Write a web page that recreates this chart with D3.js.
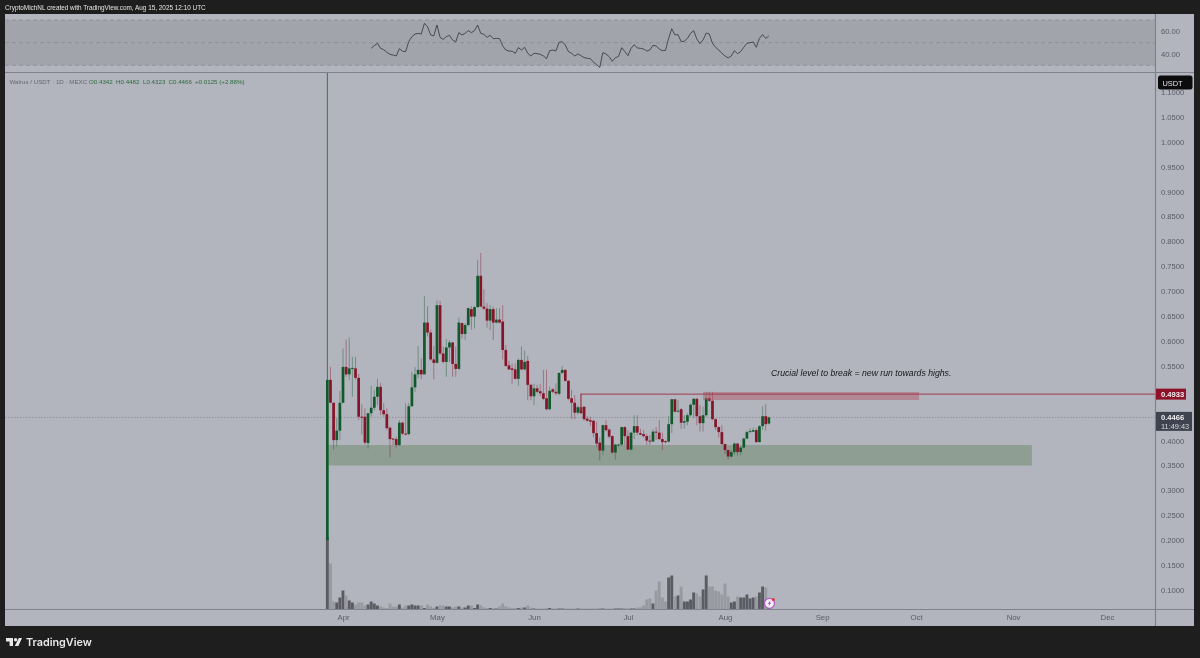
<!DOCTYPE html>
<html><head><meta charset="utf-8">
<script src="https://cdn.jsdelivr.net/npm/d3@7"></script>
<style>html,body{margin:0;padding:0;background:#1e1e1e;overflow:hidden}svg{display:block;font-family:"Liberation Sans",sans-serif;filter:blur(0.3px)}</style>
</head><body><svg id="c" width="1200" height="658"></svg>
<script>
const opens=[.2,.522,.476,.401,.420,.476,.548,.533,.545,.545,.526,.448,.448,.395,.455,.466,.488,.508,.461,.453,
.426,.404,.403,.391,.436,.414,.413,.469,.507,.533,.542,.533,.637,.617,.563,.556,.672,.575,.558,.587,
.597,.554,.544,.636,.614,.632,.664,.649,.668,.731,.669,.665,.641,.664,.637,.643,.639,.582,.551,.545,
.543,.524,.562,.543,.560,.512,.489,.505,.499,.495,.485,.463,.503,.498,.494,.536,.542,.520,.485,.476,
.456,.467,.468,.444,.441,.440,.415,.396,.380,.431,.422,.409,.376,.392,.392,.427,.409,.382,.416,.429,
.415,.413,.409,.400,.398,.418,.416,.403,.399,.398,.433,.483,.458,.463,.436,.438,.451,.472,.484,.449,
.435,.451,.485,.480,.443,.427,.417,.393,.381,.368,.377,.394,.377,.386,.404,.417,.418,.421,.397,.429,
.449,.4342];
const closes=[.522,.476,.401,.420,.476,.548,.533,.545,.546,.526,.448,.447,.396,.455,.466,.488,.508,.461,.453,.425,
.403,.402,.391,.436,.414,.413,.469,.507,.533,.542,.533,.637,.617,.563,.556,.672,.575,.558,.587,.597,
.554,.544,.637,.614,.632,.666,.649,.668,.731,.669,.665,.641,.664,.637,.643,.637,.582,.550,.543,.542,
.524,.562,.543,.558,.512,.489,.505,.498,.495,.484,.463,.500,.498,.495,.536,.542,.520,.484,.476,.456,
.467,.455,.443,.440,.438,.415,.394,.380,.431,.421,.408,.376,.392,.392,.427,.409,.382,.416,.429,.416,
.412,.409,.400,.398,.418,.416,.403,.397,.398,.433,.483,.458,.460,.436,.439,.451,.472,.484,.449,.435,
.451,.485,.480,.443,.427,.417,.393,.381,.368,.377,.394,.377,.386,.404,.417,.419,.421,.397,.429,.449,
.433,.4466];
const highs=[1.2,.548,.477,.445,.500,.585,.603,.607,.568,.568,.534,.473,.465,.455,.510,.502,.524,.516,.475,.465,
.428,.405,.408,.441,.438,.475,.475,.538,.548,.590,.565,.690,.670,.623,.590,.681,.681,.589,.604,.602,
.598,.589,.647,.637,.636,.667,.670,.670,.763,.777,.704,.676,.672,.669,.666,.666,.672,.592,.560,.555,
.555,.565,.589,.581,.570,.514,.514,.512,.514,.542,.542,.508,.505,.515,.536,.550,.543,.522,.502,.491,
.470,.495,.469,.449,.448,.440,.438,.406,.432,.441,.425,.411,.393,.394,.428,.429,.421,.418,.451,.451,
.424,.421,.414,.411,.423,.427,.441,.416,.400,.449,.483,.483,.481,.465,.451,.455,.475,.485,.485,.471,
.468,.498,.498,.498,.445,.429,.431,.394,.382,.381,.396,.396,.388,.406,.420,.425,.426,.425,.431,.469,
.473,.4482];
const lows=[.2,.475,.382,.388,.401,.475,.528,.522,.488,.522,.441,.412,.392,.384,.448,.461,.471,.451,.448,.421,
.366,.390,.386,.389,.411,.411,.411,.468,.498,.525,.523,.534,.609,.560,.523,.555,.572,.555,.528,.558,
.528,.528,.542,.605,.602,.629,.623,.625,.666,.669,.662,.627,.622,.602,.635,.635,.563,.548,.542,.514,
.523,.510,.541,.541,.481,.481,.471,.495,.489,.481,.461,.461,.495,.491,.491,.534,.518,.481,.443,.443,
.452,.454,.440,.438,.429,.407,.388,.360,.371,.418,.404,.374,.362,.388,.389,.391,.381,.380,.403,.411,
.411,.406,.391,.391,.400,.401,.401,.381,.394,.396,.415,.456,.456,.424,.424,.431,.448,.445,.431,.418,
.418,.448,.478,.441,.421,.406,.391,.373,.362,.366,.371,.370,.371,.384,.403,.416,.418,.396,.396,.421,
.420,.4323];
const volumes=[72,46,8,7,12,19,14,9,7,5,7,7,4,5,8,6,4,3,2,1.5,
6,3,3,5,2,4,4,5,4,4,4,1.5,5,3,1.5,3,4,4,3,3,
2,3,3,2,2,4,4,1.5,5,4,2,1.5,1.5,1.5,1,3,6,3,2,1.5,
1.5,1.5,2,2,4,2,1,1,1,1,1.5,1.5,1,1,1,1,1,1,1,1,
1,1,1,1,1,1,1,1.5,1,1,1,1,1,1,1,1.5,1,1,1,2,
2,4,10,11,6,19,28,12,8,32,34,13,14,23,8,8,10,17,16,13,
20,34,23,23,19,18,15,26,13,7,8,13,12,12,15,11,12,13,17,23,22,8];
const rsiStart=14;
const rsiValues=[45,47.4,49.4,45,43.8,41.5,39.7,39.1,38.2,44.7,42.4,42.1,50.9,55.3,57.6,58.2,57.6,67.1,64.1,56.8,55.9,65.6,54.7,52.9,55.3,56.5,52.4,50.6,58.8,56.8,58.2,60.6,58.8,60.6,65.6,58.2,57.4,54.7,56.5,53.5,53.8,53.5,47.1,43.5,42.6,42.4,40.6,45.6,43.5,45.9,40.6,38.2,40.6,40.3,39.7,38.2,35.9,42.9,43.5,42.6,50.3,50.9,47.9,42.1,40.6,38.2,40,38.5,36.8,36.2,35.9,32.7,30.6,28.2,41.2,40,37.7,33.5,36.8,37.7,45.6,42.1,38.5,45,48.2,45.3,45,44.4,42.6,43.5,47.6,47.1,44.4,42.9,43.2,53.8,62.3,56.8,57.1,50.9,51.2,53.8,58.2,60.6,53.2,49.1,52.4,58.5,57.6,49.4,45.9,43.5,40.6,38.2,36.5,38.2,42.9,40.3,42.1,45.9,49.4,50,50.6,45.9,53.8,57.1,53.8,55.9];
const priceTicks=[.1,.15,.2,.25,.3,.35,.4,.55,.6,.65,.7,.75,.8,.85,.9,.95,1,1.05,1.1];
const rsiTicks=[60,40];
const rsiBands=[70,50,30];
const monthTicks=["2025-04-01","2025-05-01","2025-06-01","2025-07-01","2025-08-01","2025-09-01","2025-10-01","2025-11-01","2025-12-01"];
const firstDay="2025-03-27";
const greenZone={from:"2025-03-28",to:"2025-11-07",lo:.35,hi:.391};
const redZone={from:"2025-07-25",to:"2025-10-02",lo:.4815,hi:.4976};
const level={price:.4933,from:"2025-06-16",stem:.459};
const last=.4466;

const svg=d3.select("#c");
const C={bg:"#1e1e1e",pane:"#b2b5be",band:"#a2a4ac",up:"#11582a",dn:"#861428",axis:"#585b65",sep:"#7f828c"};
const FONT="'Liberation Sans',sans-serif";
const px=d3.scaleUtc().domain([new Date("2025-04-01"),new Date("2025-12-01")]).range([343,1107]);
const py=d3.scaleLinear().domain([.1,1.1]).range([590,92]);
const ry=d3.scaleLinear().domain([30,70]).range([65.3,20]);
const vh=d3.scaleLinear().domain([0,100]).range([0,100]);
const day=i=>d3.utcDay.offset(new Date(firstDay),i);
const X=i=>px(day(i));

svg.append("rect").attr("width",1200).attr("height",658).attr("fill",C.bg);
svg.append("rect").attr("x",5).attr("y",14).attr("width",1189).attr("height",612).attr("fill",C.pane);
svg.append("rect").attr("x",5).attr("y",ry(70)).attr("width",1150).attr("height",ry(30)-ry(70)).attr("fill",C.band);
svg.selectAll(".band").data(rsiBands).join("line").attr("x1",5).attr("x2",1155).attr("y1",d=>ry(d)).attr("y2",d=>ry(d))
  .attr("stroke","#8a8c95").attr("stroke-width",.8).attr("stroke-dasharray","4 3");

const defs=svg.append("defs");
defs.append("clipPath").attr("id","pane").append("rect").attr("x",5).attr("y",73).attr("width",1150).attr("height",536.5);

const main=svg.append("g").attr("clip-path","url(#pane)");
main.append("rect").attr("x",px(new Date(greenZone.from))-2).attr("y",py(greenZone.hi)).attr("width",px(new Date(greenZone.to))-px(new Date(greenZone.from))+2)
  .attr("height",py(greenZone.lo)-py(greenZone.hi)).attr("fill","#8e9e93");
main.append("line").attr("x1",5).attr("x2",1155).attr("y1",py(last)).attr("y2",py(last)).attr("stroke","#8a8c95").attr("stroke-width",.8).attr("stroke-dasharray","1.5 1.5");
const idx=d3.range(opens.length);
main.selectAll(".vol").data(idx).join("rect").attr("x",i=>X(i)-1.45).attr("width",2.9)
  .attr("y",i=>609.5-vh(volumes[i])).attr("height",i=>vh(volumes[i]))
  .attr("fill",i=>closes[i]>=opens[i]?"#5b5c62":"#989aa2");
main.selectAll(".wick").data(idx).join("line").attr("x1",X).attr("x2",X).attr("y1",i=>py(highs[i])).attr("y2",i=>py(lows[i]))
  .attr("stroke",i=>closes[i]>=opens[i]?C.up:C.dn).attr("stroke-width",1).attr("stroke-opacity",i=>i===0?.75:.4);
main.selectAll(".body").data(idx).join("rect").attr("x",i=>X(i)-1.35).attr("width",2.7)
  .attr("y",i=>py(Math.max(opens[i],closes[i]))).attr("height",i=>Math.max(1,Math.abs(py(opens[i])-py(closes[i]))))
  .attr("fill",i=>closes[i]>=opens[i]?C.up:C.dn);
main.append("rect").attr("x",px(new Date(redZone.from))).attr("y",py(redZone.hi)).attr("width",px(new Date(redZone.to))-px(new Date(redZone.from)))
  .attr("height",py(redZone.lo)-py(redZone.hi)).attr("fill","#b0505f").attr("fill-opacity",.45);
main.append("path").attr("d",d3.line()([[px(new Date(level.from)),py(level.stem)],[px(new Date(level.from)),py(level.price)],[1155,py(level.price)]]))
  .attr("fill","none").attr("stroke","#a03c4c").attr("stroke-width",1);
main.append("text").attr("x",771).attr("y",376).attr("font-size",8.7).attr("font-style","italic").attr("fill","#17181c")
  .attr("font-family",FONT).text("Crucial level to break = new run towards highs.");

const rsiLine=d3.line().x((d,i)=>X(i+rsiStart)).y(d=>ry(d));
svg.append("path").attr("d",rsiLine(rsiValues)).attr("fill","none").attr("stroke","#3f4046").attr("stroke-width",.9);

svg.append("line").attr("x1",5).attr("x2",1194).attr("y1",72.5).attr("y2",72.5).attr("stroke",C.sep).attr("stroke-width",1.2);
svg.append("line").attr("x1",5).attr("x2",1194).attr("y1",609.5).attr("y2",609.5).attr("stroke",C.sep).attr("stroke-width",1);
svg.append("line").attr("x1",1155.5).attr("x2",1155.5).attr("y1",14).attr("y2",626).attr("stroke",C.sep).attr("stroke-width",1.2);

const yAxis=d3.axisRight(py).tickValues(priceTicks).tickFormat(d3.format(".4f")).tickSize(0).tickPadding(0);
const gy=svg.append("g").attr("transform","translate(1161,0)").call(yAxis);
gy.select(".domain").remove();
gy.selectAll("text").attr("font-size",7.6).attr("fill",C.axis).attr("font-family",FONT);
const rAxis=d3.axisRight(ry).tickValues(rsiTicks).tickFormat(d3.format(".2f")).tickSize(0).tickPadding(0);
const gr=svg.append("g").attr("transform","translate(1161,0)").call(rAxis);
gr.select(".domain").remove();
gr.selectAll("text").attr("font-size",7.6).attr("fill",C.axis).attr("font-family",FONT);
const xAxis=d3.axisBottom(px).tickValues(monthTicks.map(d=>new Date(d))).tickFormat(d3.utcFormat("%b")).tickSize(0).tickPadding(0);
const gx=svg.append("g").attr("transform","translate(0,614)").call(xAxis);
gx.select(".domain").remove();
gx.selectAll("text").attr("font-size",7.8).attr("fill",C.axis).attr("font-family",FONT);

function badge(x,y,w,h,fill,r){svg.append("rect").attr("x",x).attr("y",y).attr("width",w).attr("height",h).attr("rx",r||0).attr("fill",fill);}
function label(x,y,t,fill,size,weight){svg.append("text").attr("x",x).attr("y",y).attr("font-size",size||7.6).attr("fill",fill).attr("font-weight",weight||400).attr("font-family",FONT).text(t);}
badge(1158,75.5,34.5,14,"#0c0c0e",2.5); label(1162.5,85.5,"USDT","#e4e4e8",7.4);
badge(1156,py(level.price)-5.5,30,11,"#8e1328"); label(1161,py(level.price)+2.8,d3.format(".4f")(level.price),"#f2f0f2",7.6,700);
badge(1156,py(last)-5.5,36,19,"#3f434f"); label(1161,py(last)+2.8,d3.format(".4f")(last),"#f0f0f4",7.6,700); label(1161,py(last)+11.5,"11:49:43","#d8d9de",7.4);

label(5,10,"CryptoMichNL created with TradingView.com, Aug 15, 2025 12:10 UTC","#e6e6e6",6.4);
label(9.5,83.5,"Walrus / USDT · 1D · MEXC","#646772",6.2);
const legend=[["O0.4342",89],["H0.4482",116],["L0.4323",143],["C0.4466",168.5],["+0.0125 (+2.88%)",195]];
legend.forEach(l=>label(l[1],83.5,l[0],"#2c6a3c",6.2));

const ic=svg.append("g").attr("transform","translate(769.5,603.3)");
ic.append("circle").attr("r",5).attr("fill","#f4eef6").attr("stroke","#b45ac8").attr("stroke-width",1.3);
ic.append("path").attr("d","M1,-3 L-1.6,0.5 L-0.2,0.5 L-1,3 L1.6,-0.6 L0.2,-0.6 Z").attr("fill","#a040b8");
ic.append("circle").attr("cx",3.8).attr("cy",-3.8).attr("r",1.5).attr("fill","#e8303c");

const logo=svg.append("g").attr("transform","translate(6,638)").attr("fill","#e8e8e8");
logo.append("path").attr("d","M0,0 H7 V8 H3.6 V3.4 H0 Z");
logo.append("circle").attr("cx",9.6).attr("cy",1.7).attr("r",1.7);
logo.append("path").attr("d","M12.8,0 H16 L12.4,8 H8.8 Z");
svg.append("text").attr("x",26).attr("y",646.3).attr("font-size",10.8).attr("font-weight",600).attr("fill","#e8e8e8").attr("font-family","Inter,sans-serif").text("TradingView");
</script></body></html>
